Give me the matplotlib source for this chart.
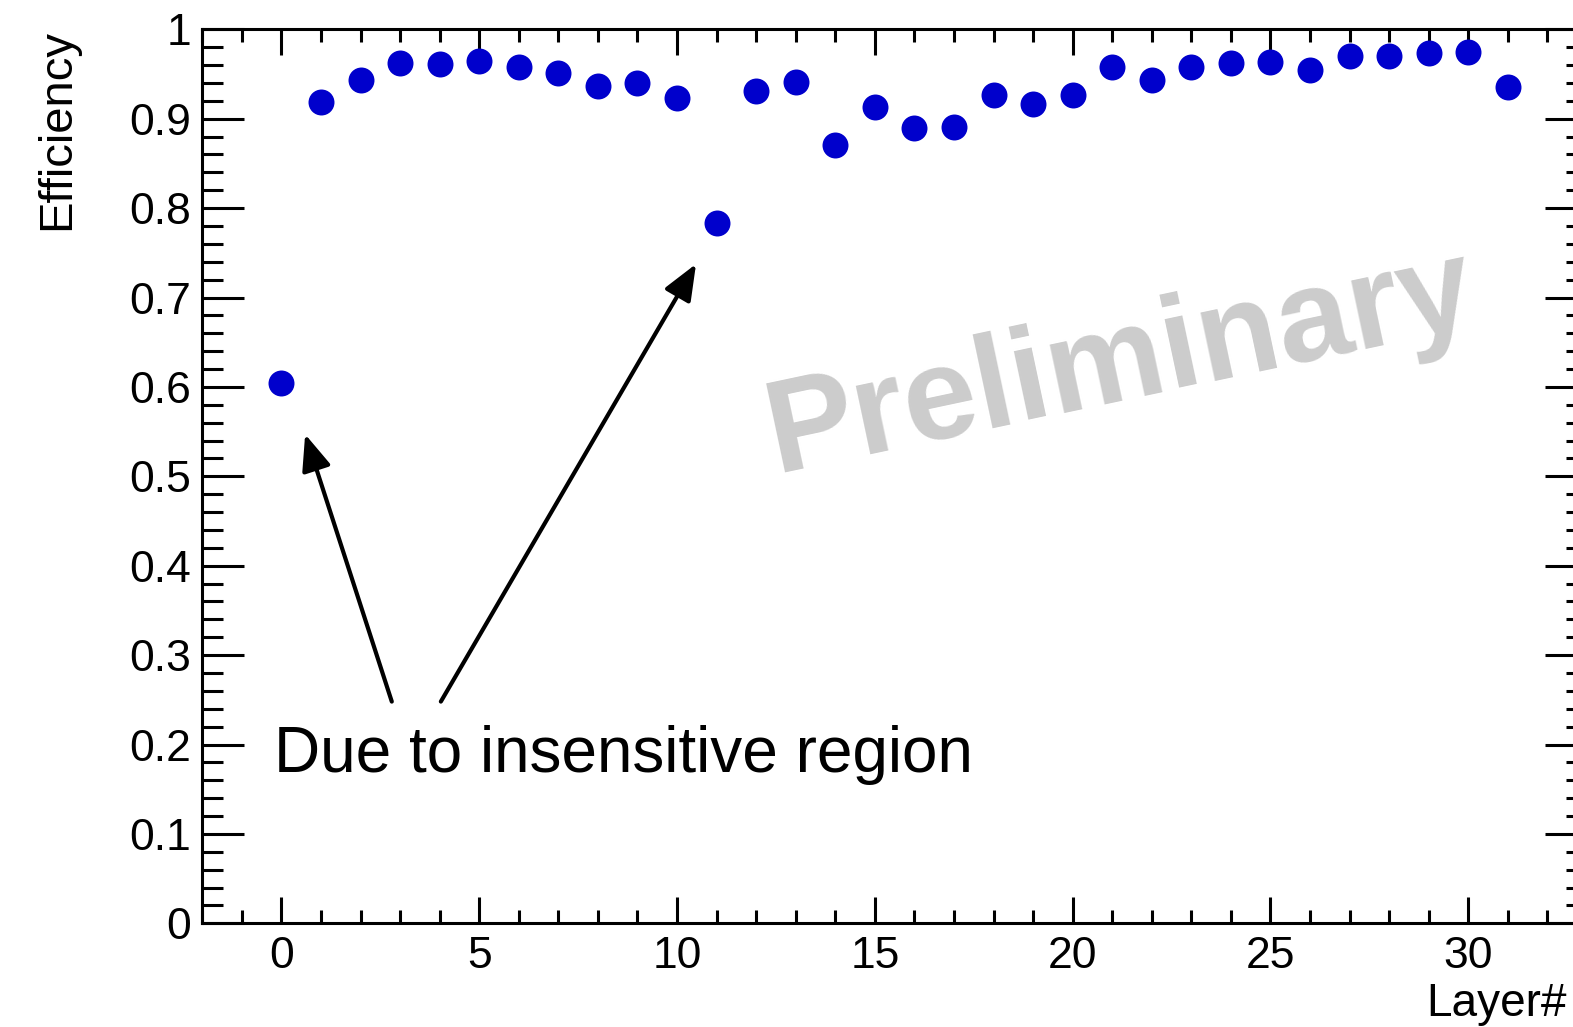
import matplotlib
matplotlib.use("Agg")
from matplotlib import pyplot as plt
from matplotlib.ticker import MultipleLocator

# layer efficiencies
layers = list(range(32))
efficiency = [0.604, 0.919, 0.943, 0.962, 0.961, 0.964, 0.958, 0.951,
              0.937, 0.940, 0.923, 0.783, 0.931, 0.941, 0.871, 0.913,
              0.890, 0.891, 0.927, 0.916, 0.926, 0.958, 0.943, 0.958,
              0.962, 0.963, 0.954, 0.970, 0.970, 0.974, 0.975, 0.935]

note_text = "Due to insensitive region"
watermark = "Preliminary"

plt.rcParams["font.family"] = ["Liberation Sans", "DejaVu Sans"]

fig = plt.figure(figsize=(15.73, 10.27), dpi=100)
ax = fig.add_axes([0.1286, 0.10097, 0.8803, 0.8705])

ax.plot(layers, efficiency, "o", color="#0000CC", markersize=18.7,
        markeredgewidth=0, zorder=3)

ax.set_xlim(-2, 33)
ax.set_ylim(0, 1)
ax.xaxis.set_major_locator(MultipleLocator(5))
ax.xaxis.set_minor_locator(MultipleLocator(1))
ax.yaxis.set_minor_locator(MultipleLocator(0.02))
ax.set_yticks([0, 0.1, 0.2, 0.3, 0.4, 0.5, 0.6, 0.7, 0.8, 0.9, 1.0])
ax.set_yticklabels(["0", "0.1", "0.2", "0.3", "0.4", "0.5", "0.6",
                    "0.7", "0.8", "0.9", "1"])

ax.tick_params(axis="both", which="both", direction="in",
               top=True, right=True, width=2.2, labelsize=32)
ax.tick_params(axis="x", which="major", length=18.7, pad=9)
ax.tick_params(axis="x", which="minor", length=9.4)
ax.tick_params(axis="y", which="major", length=30.2, pad=8)
ax.tick_params(axis="y", which="minor", length=15.1)
for sp in ax.spines.values():
    sp.set_linewidth(2.2)

ax.set_xlabel("Layer#", fontsize=33, loc="right")
ax.xaxis.set_label_coords(0.9856, -0.066)
ax.set_ylabel("Efficiency", fontsize=34, loc="top")
ax.yaxis.set_label_coords(-0.089, 1.0)

# arrows pointing at the two low layers
arrow = dict(arrowstyle="-|>,head_length=1.1,head_width=0.45",
             mutation_scale=20, lw=3, color="black",
             shrinkA=0, shrinkB=0)
ax.annotate("", xy=(0.60, 0.547), xytext=(2.79, 0.248), arrowprops=arrow)
ax.annotate("", xy=(10.48, 0.7375), xytext=(4.03, 0.248), arrowprops=arrow)
ax.text(-0.18, 0.169, note_text, fontsize=46, ha="left", va="baseline")

ax.text(21.2, 0.626, watermark, fontsize=95, fontweight="bold",
        color="#CCCCCC", rotation=12, ha="center", va="center",
        rotation_mode="anchor", zorder=1)

fig.savefig("out.png", dpi=100)
